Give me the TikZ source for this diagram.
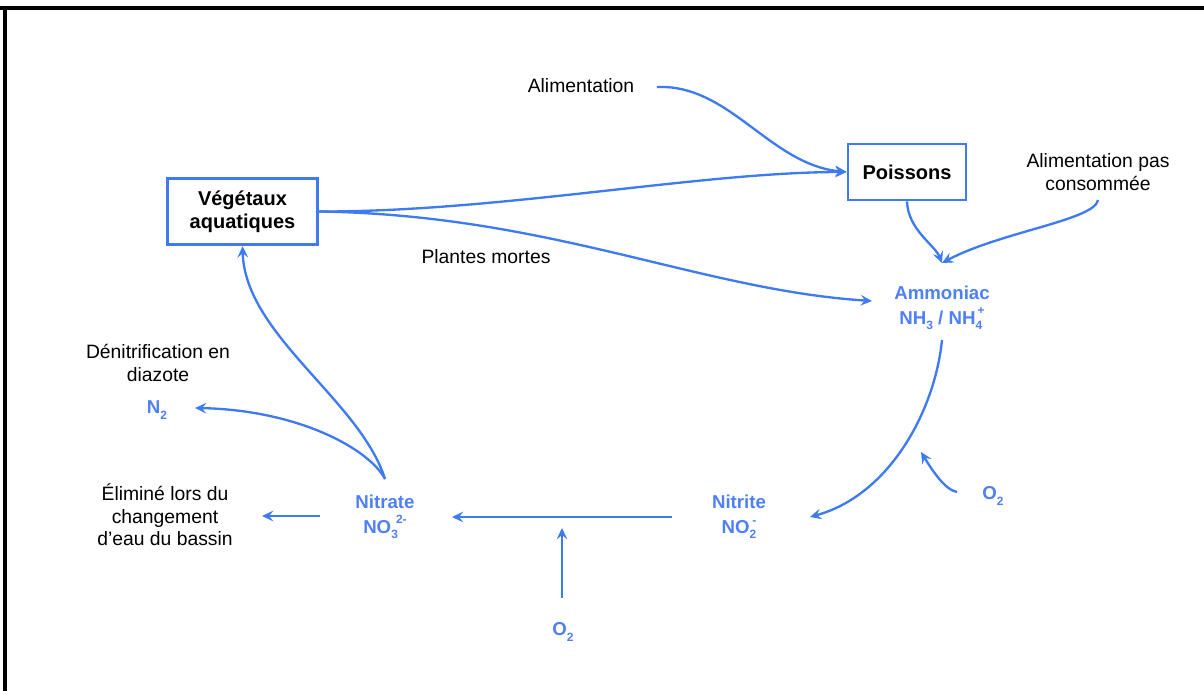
\documentclass[tikz,border=0pt]{standalone}
\usepackage{fontspec}
\setmainfont{Liberation Sans}
\usetikzlibrary{arrows.meta}
\definecolor{lineblue}{RGB}{62,122,240}
\definecolor{labelblue}{RGB}{78,128,245}
\newcommand\chsub[1]{\raisebox{-0.55ex}{\fontsize{9}{9}\selectfont #1}}
\newcommand\chsup[1]{\raisebox{0.95ex}{\fontsize{9}{9}\selectfont #1}}
\begin{document}
\begin{tikzpicture}[x=0.75pt,y=-0.75pt,
  lbl/.style={align=center,inner sep=1pt,font=\fontsize{14.5}{17}\selectfont},
  blbl/.style={align=center,inner sep=1pt,text=labelblue,font=\fontsize{14}{18.5}\selectfont\bfseries},
  box/.style={draw=lineblue,line width=2.1pt,align=center,inner sep=2pt,font=\fontsize{15}{17.5}\selectfont\bfseries},
  conn/.style={draw=lineblue,line width=1.75pt,-{Stealth[length=8.5pt,width=8pt,inset=3.2pt]}},
  frame/.style={line width=2.4pt,black}]
\useasboundingbox (0,0) rectangle (1204,691);
\draw[frame] (0,8) -- (1204,8);
\draw[frame] (5,8) -- (5,691);

\node[lbl] (alim) at (581,86) {Alimentation};
\node[box,minimum width=88.5pt,minimum height=42pt] (poi) at (907,172) {Poissons};
\node[box,minimum width=113pt,minimum height=50pt] (veg) at (242.5,211.5) {Végétaux\\aquatiques};
\node[lbl] (apc) at (1098,172) {Alimentation pas\\consommée};
\node[blbl] (amm) at (942,308) {Ammoniac\\NH\chsub{3} / NH\chsub{4}\kern-0.25em\chsup{+}};
\node[lbl] (pm) at (486,257) {Plantes mortes};
\node[lbl] (deni) at (158,363) {Dénitrification en\\diazote};
\node[blbl] (n2) at (157,410) {N\chsub{2}};
\node[lbl] (elim) at (165,515) {Éliminé lors du\\changement\\d’eau du bassin};
\node[blbl] (nitrate) at (385,517) {Nitrate\\NO\chsub{3}\kern-0.1em\chsup{2-}};
\node[blbl] (nitrite) at (739,517) {Nitrite\\NO\chsub{2}\kern-0.2em\chsup{-}};
\node[blbl] (o2r) at (993,496) {O\chsub{2}};
\node[blbl] (o2b) at (563,632) {O\chsub{2}};
\coordinate (o2rtip) at (921,452);
\coordinate (o2btip) at (562,528);

\draw[conn] ([shift={(76,1)}]alim.center) .. controls (730,84) and (770,165) .. (poi.west);
\draw[conn] (veg.east) .. controls (500,212) and (700,172) .. (poi.west);
\draw[conn] (veg.east) .. controls (550,215) and (700,290) .. ([shift={(-70,-7)}]amm.center);
\draw[conn] (poi.south) .. controls (908,230) and (935,245) .. ([shift={(0,-45)}]amm.center);
\draw[conn] ([shift={(0,28)}]apc.center) .. controls (1095,220) and (1000,232) .. ([shift={(0,-45)}]amm.center);
\draw[conn] ([shift={(0,32)}]amm.center) .. controls (935,410) and (890,495) .. ([shift={(71,0)}]nitrite.center);
\draw[conn] ([shift={(-36,-4)}]o2r.center) .. controls (945,490) and (932,470) .. (o2rtip);
\draw[conn] ([shift={(-67,0)}]nitrite.center) -- ([shift={(67,0)}]nitrate.center);
\draw[conn] ([shift={(-1,-34)}]o2b.center) -- (o2btip);
\draw[conn] ([shift={(0,-38)}]nitrate.center) .. controls (360,400) and (245,335) .. (veg.south);
\draw[conn] ([shift={(0,-38)}]nitrate.center) .. controls (370,450) and (300,410) .. ([shift={(38,-2)}]n2.center);
\draw[conn] ([shift={(-65,-1)}]nitrate.center) -- ([shift={(97,1)}]elim.center);
\end{tikzpicture}
\end{document}
